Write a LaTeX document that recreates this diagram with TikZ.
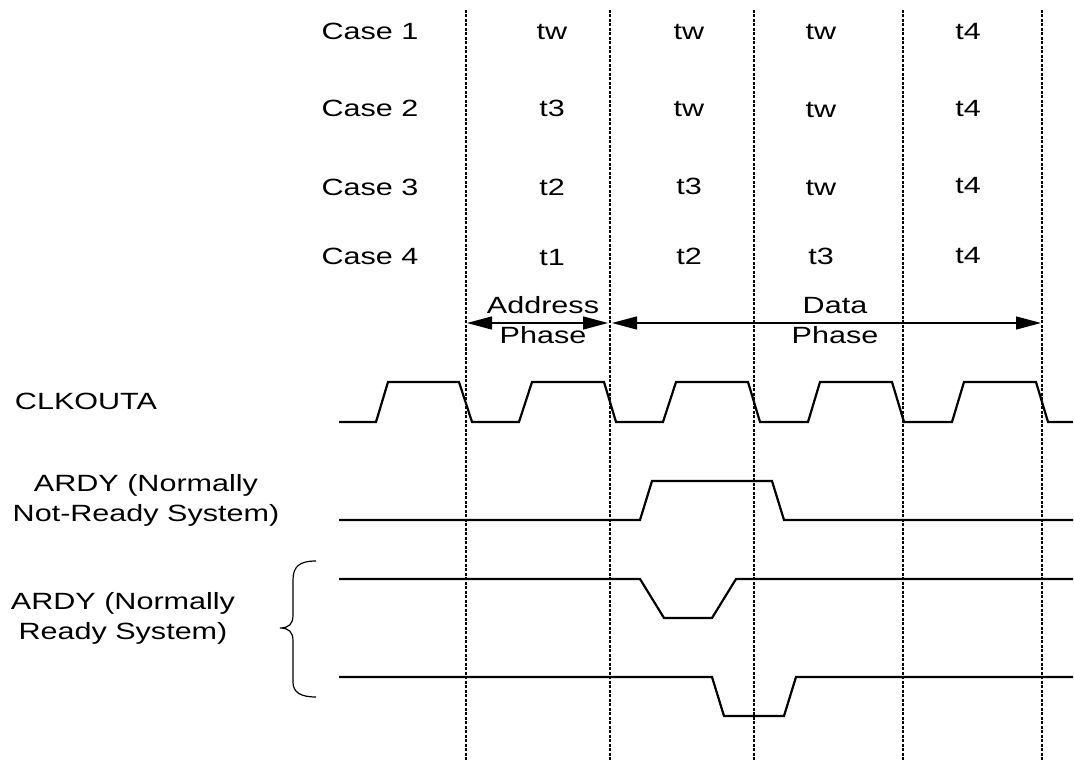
\documentclass[tikz,border=0pt]{standalone}
\usepackage{fontspec}
\setmainfont{Liberation Sans}
\usepackage{graphicx}
\usetikzlibrary{arrows.meta}

\newcommand{\wtxt}[1]{\scalebox{1.3}[1]{\begin{tabular}{@{}c@{}}#1\end{tabular}}}

\tikzset{
	lbl/.style={inner sep=0pt, font=\fontsize{23.5}{30}\selectfont},
	gridline/.style={line width=1.3pt, dash pattern=on 3pt off 1.5pt},
	sigline/.style={line width=2.2pt, line join=miter},
	phasearrow/.style={line width=1.4pt, {Triangle[length=25pt,width=13pt]}-{Triangle[length=25pt,width=13pt]}},
	bracket/.style={line width=1.2pt},
}

\begin{document}
\begin{tikzpicture}[x=1pt,y=-1pt]
	\useasboundingbox (0,0) rectangle (1074,767);

	\coordinate (v1t) at (466,10);  \coordinate (v1b) at (466,760);
	\coordinate (v2t) at (610,10);  \coordinate (v2b) at (610,760);
	\coordinate (v3t) at (754,10);  \coordinate (v3b) at (754,760);
	\coordinate (v4t) at (903,10);  \coordinate (v4b) at (903,760);
	\coordinate (v5t) at (1042,10); \coordinate (v5b) at (1042,760);

	\draw[gridline] (v1t) -- (v1b);
	\draw[gridline] (v2t) -- (v2b);
	\draw[gridline] (v3t) -- (v3b);
	\draw[gridline] (v4t) -- (v4b);
	\draw[gridline] (v5t) -- (v5b);

	\node[lbl] (c1) at (370,34) {\wtxt{Case 1}};
	\node[lbl] (c2) at (370,111) {\wtxt{Case 2}};
	\node[lbl] (c3) at (370,190) {\wtxt{Case 3}};
	\node[lbl] (c4) at (370,259) {\wtxt{Case 4}};

	\node[lbl] (c1a) at (552,34) {\wtxt{tw}};
	\node[lbl] (c1b) at (689,34) {\wtxt{tw}};
	\node[lbl] (c1c) at (821,34) {\wtxt{tw}};
	\node[lbl] (c1d) at (968,34) {\wtxt{t4}};

	\node[lbl] (c2a) at (552,111) {\wtxt{t3}};
	\node[lbl] (c2b) at (689,111) {\wtxt{tw}};
	\node[lbl] (c2c) at (821,112) {\wtxt{tw}};
	\node[lbl] (c2d) at (968,111) {\wtxt{t4}};

	\node[lbl] (c3a) at (552,190) {\wtxt{t2}};
	\node[lbl] (c3b) at (689,189) {\wtxt{t3}};
	\node[lbl] (c3c) at (821,190) {\wtxt{tw}};
	\node[lbl] (c3d) at (968,188) {\wtxt{t4}};

	\node[lbl] (c4a) at (552,260) {\wtxt{t1}};
	\node[lbl] (c4b) at (689,259) {\wtxt{t2}};
	\node[lbl] (c4c) at (821,259) {\wtxt{t3}};
	\node[lbl] (c4d) at (968,258) {\wtxt{t4}};

	% phase arrows
	\coordinate (a1) at (467,323);
	\coordinate (a2) at (608,323);
	\coordinate (a3) at (612,323);
	\coordinate (a4) at (1041,323);
	\draw[phasearrow] (a1) -- (a2);
	\draw[phasearrow] (a3) -- (a4);
	\node[lbl] (addr) at (543,323) {\wtxt{Address\\Phase}};
	\node[lbl] (data) at (835,323) {\wtxt{Data\\Phase}};

	% signal names
	\node[lbl] (clk) at (86,403) {\wtxt{CLKOUTA}};
	\node[lbl] (nrdy) at (146,500) {\wtxt{ARDY (Normally\\Not-Ready System)}};
	\node[lbl] (rdy) at (123,618) {\wtxt{ARDY (Normally\\Ready System)}};

	\draw[bracket] (316,561) .. controls (300,561) and (293,566) .. (293,580) -- (293,615)
		.. controls (293,624) and (289,628) .. (280,628)
		.. controls (289,628) and (293,632) .. (293,641) -- (293,682)
		.. controls (293,692) and (300,697) .. (316,697);

	% waveforms
	\draw[sigline] (339,422) -- (376,422) -- (388,382) -- (459,382) -- (472,422) -- (519,422) -- (532,382) -- (604,382) -- (616,422) -- (663,422) -- (676,382) -- (748,382) -- (760,422) -- (808,422) -- (820,382) -- (892,382) -- (904,422) -- (952,422) -- (964,382) -- (1036,382) -- (1048,422) -- (1073,422);
	\draw[sigline] (339,520) -- (640,520) -- (652,481) -- (772,481) -- (784,520) -- (1073,520);
	\draw[sigline] (339,579) -- (640,579) -- (664,618) -- (712,618) -- (736,579) -- (1073,579);
	\draw[sigline] (339,677) -- (712,677) -- (724,716) -- (784,716) -- (796,677) -- (1073,677);
\end{tikzpicture}
\end{document}
